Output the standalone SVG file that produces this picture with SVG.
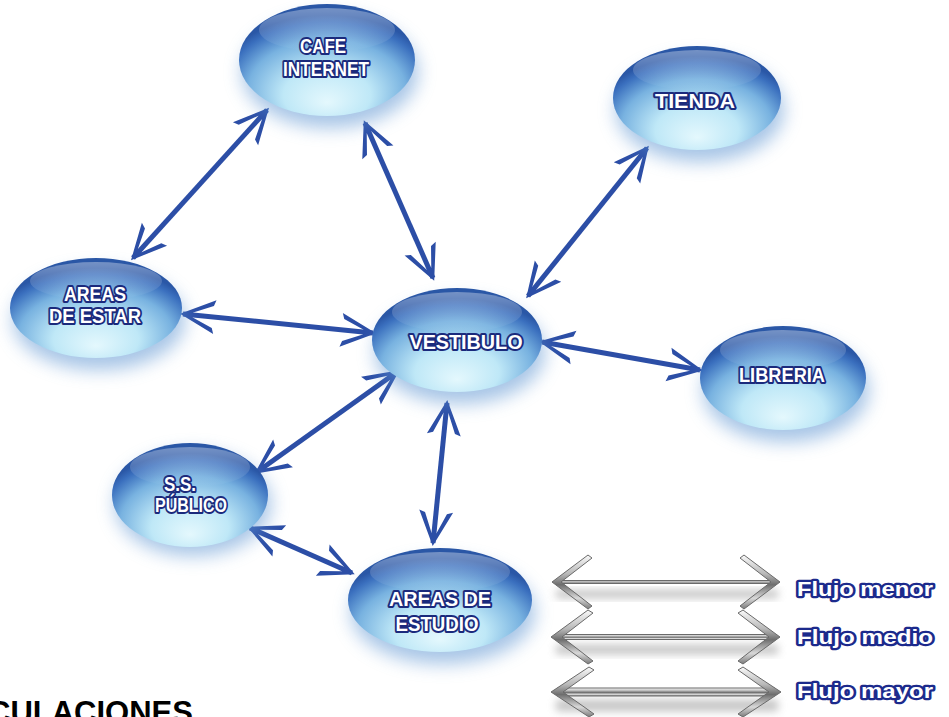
<svg xmlns="http://www.w3.org/2000/svg" width="949" height="717" viewBox="0 0 949 717">
<defs>
<radialGradient id="bub" cx="50%" cy="72%" r="62%" fx="50%" fy="88%">
<stop offset="0" stop-color="#e4f8fd"/>
<stop offset="0.4" stop-color="#bfe8f7"/>
<stop offset="0.72" stop-color="#78b2e0"/>
<stop offset="0.92" stop-color="#3a6fbe"/>
<stop offset="1" stop-color="#2a57a6"/>
</radialGradient>
<linearGradient id="hl" x1="0" y1="0" x2="0" y2="1">
<stop offset="0" stop-color="#ffffff" stop-opacity="0.35"/>
<stop offset="1" stop-color="#ffffff" stop-opacity="0"/>
</linearGradient>
<linearGradient id="silver" x1="0" y1="0" x2="0" y2="1">
<stop offset="0" stop-color="#fafafa"/>
<stop offset="0.35" stop-color="#b8b8b8"/>
<stop offset="0.55" stop-color="#6e6e6e"/>
<stop offset="0.8" stop-color="#d8d8d8"/>
<stop offset="1" stop-color="#7a7a7a"/>
</linearGradient>
<filter id="blur" x="-30%" y="-30%" width="160%" height="160%"><feGaussianBlur stdDeviation="9"/></filter>
<filter id="blur2" x="-20%" y="-50%" width="140%" height="200%"><feGaussianBlur stdDeviation="4"/></filter>
<marker id="ah" markerUnits="userSpaceOnUse" orient="auto-start-reverse" viewBox="-36 -20 42 40" markerWidth="42" markerHeight="40" refX="0" refY="0" overflow="visible">
<path d="M3,0 L-32,-17 L-30,-11 L-10,-2.5 L-10,2.5 L-30,11 L-32,17 Z" fill="#2c4ea6"/>
</marker>
<style>
.sh{fill:#5f95d2;opacity:0.55;filter:url(#blur)}
.el{fill:url(#bub)}
.hl{fill:url(#hl)}
.lb{font-family:"Liberation Sans",Arial,sans-serif;font-weight:bold;font-size:20px;fill:#ffffff;stroke:#1b2a7c;stroke-width:4px;paint-order:stroke;stroke-linejoin:round;text-anchor:middle}
.lg{font-family:"Liberation Sans",Arial,sans-serif;font-weight:bold;font-size:20px;fill:#ffffff;stroke:#1c2a8c;stroke-width:4.5px;paint-order:stroke;stroke-linejoin:round}
.cn{stroke:#2c4ea6;stroke-width:5;fill:none;marker-start:url(#ah);marker-end:url(#ah)}
.ch{fill:url(#silver);stroke:#6a6a6a;stroke-width:1}
.ss{fill:#9a9a9a;opacity:0.6;filter:url(#blur2)}
</style>
</defs>
<rect width="949" height="717" fill="#ffffff"/>

<g id="connectors">
<line class="cn" x1="267" y1="110" x2="133" y2="258"/>
<line class="cn" x1="365" y1="123" x2="433" y2="278"/>
<line class="cn" x1="647" y1="148" x2="528" y2="296"/>
<line class="cn" x1="183" y1="314" x2="373" y2="333"/>
<line class="cn" x1="542" y1="342" x2="700" y2="370"/>
<line class="cn" x1="397" y1="372" x2="257" y2="472"/>
<line class="cn" x1="447" y1="403" x2="433" y2="543"/>
<line class="cn" x1="250" y1="528" x2="352" y2="573"/>
</g>

<g id="cafe-internet">
<ellipse class="sh" cx="330" cy="72" rx="88" ry="56"/>
<ellipse class="el" cx="327" cy="60" rx="88" ry="56"/>
<ellipse class="hl" cx="327" cy="30" rx="68" ry="22"/>
<text class="lb" x="323" y="53" textLength="46" lengthAdjust="spacingAndGlyphs">CAFE</text>
<text class="lb" x="326" y="76" textLength="86" lengthAdjust="spacingAndGlyphs">INTERNET</text>
</g>

<g id="tienda">
<ellipse class="sh" cx="700" cy="110" rx="84" ry="52"/>
<ellipse class="el" cx="697" cy="98" rx="84" ry="52"/>
<ellipse class="hl" cx="697" cy="70" rx="64" ry="20"/>
<text class="lb" x="695" y="108" textLength="80" lengthAdjust="spacingAndGlyphs">TIENDA</text>
</g>

<g id="areas-de-estar">
<ellipse class="sh" cx="99" cy="320" rx="86" ry="50"/>
<ellipse class="el" cx="96" cy="308" rx="86" ry="50"/>
<ellipse class="hl" cx="96" cy="281" rx="66" ry="19"/>
<text class="lb" x="95" y="301" textLength="62" lengthAdjust="spacingAndGlyphs">AREAS</text>
<text class="lb" x="95" y="323" textLength="92" lengthAdjust="spacingAndGlyphs">DE ESTAR</text>
</g>

<g id="vestibulo">
<ellipse class="sh" cx="460" cy="352" rx="85" ry="52"/>
<ellipse class="el" cx="457" cy="340" rx="85" ry="52"/>
<ellipse class="hl" cx="457" cy="312" rx="65" ry="20"/>
<text class="lb" x="466" y="349" textLength="113" lengthAdjust="spacingAndGlyphs">VESTIBULO</text>
</g>

<g id="libreria">
<ellipse class="sh" cx="786" cy="390" rx="83" ry="52"/>
<ellipse class="el" cx="783" cy="378" rx="83" ry="52"/>
<ellipse class="hl" cx="783" cy="350" rx="63" ry="20"/>
<text class="lb" x="782" y="382" textLength="86" lengthAdjust="spacingAndGlyphs">LIBRERIA</text>
</g>

<g id="ss-publico">
<ellipse class="sh" cx="193" cy="504" rx="78" ry="52"/>
<ellipse class="el" cx="190" cy="495" rx="78" ry="52"/>
<ellipse class="hl" cx="190" cy="467" rx="60" ry="20"/>
<text class="lb" x="180" y="491" textLength="32" lengthAdjust="spacingAndGlyphs">S.S.</text>
<text class="lb" x="191" y="512" textLength="72" lengthAdjust="spacingAndGlyphs">PÚBLICO</text>
</g>

<g id="areas-de-estudio">
<ellipse class="sh" cx="443" cy="612" rx="92" ry="52"/>
<ellipse class="el" cx="440" cy="600" rx="92" ry="52"/>
<ellipse class="hl" cx="440" cy="572" rx="70" ry="20"/>
<text class="lb" x="440" y="606" textLength="102" lengthAdjust="spacingAndGlyphs">AREAS DE</text>
<text class="lb" x="437" y="631" textLength="83" lengthAdjust="spacingAndGlyphs">ESTUDIO</text>
</g>

<g id="legend">
<g id="legend-menor">
<rect class="ss" x="556" y="590" width="222" height="8"/>
<rect class="ch" x="558" y="580.5" width="216" height="3"/>
<polygon class="ch" points="552,582 588,555 592,558 561,582 592,606 588,609"/>
<polygon class="ch" points="780,582 744,555 740,558 771,582 740,606 744,609"/>
<text class="lg" x="797" y="596" textLength="136" lengthAdjust="spacingAndGlyphs">Flujo menor</text>
</g>
<g id="legend-medio">
<rect class="ss" x="556" y="645" width="222" height="9"/>
<rect class="ch" x="558" y="634.5" width="216" height="5"/>
<polygon class="ch" points="551,637 588,610 593,613 562,637 593,661 588,664"/>
<polygon class="ch" points="780,637 743,610 738,613 769,637 738,661 743,664"/>
<text class="lg" x="797" y="644" textLength="136" lengthAdjust="spacingAndGlyphs">Flujo medio</text>
</g>
<g id="legend-mayor">
<rect class="ss" x="556" y="700" width="222" height="11"/>
<rect class="ch" x="558" y="688" width="216" height="8"/>
<polygon class="ch" points="551,692 589,667 594,670 563,692 594,714 589,717"/>
<polygon class="ch" points="781,692 743,667 738,670 769,692 738,714 743,717"/>
<text class="lg" x="797" y="698" textLength="136" lengthAdjust="spacingAndGlyphs">Flujo mayor</text>
</g>
</g>

<text x="-12" y="723" font-family="Liberation Sans, Arial, sans-serif" font-weight="bold" font-size="31" fill="#000000">CULACIONES</text>
</svg>
